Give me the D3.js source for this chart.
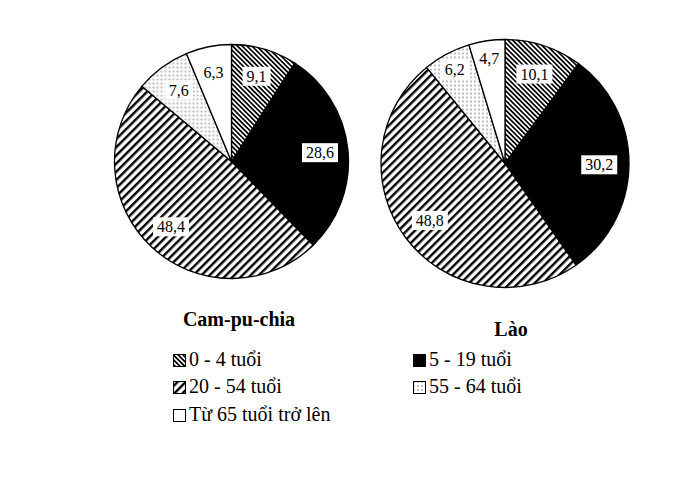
<!DOCTYPE html>
<html><head><meta charset="utf-8">
<script src="https://cdn.jsdelivr.net/npm/d3@7"></script>
</head><body style="margin:0">
<svg id="c" width="691" height="489" style="font-family:'Liberation Serif'"></svg>
<script>
const categories = ["0 - 4 tuổi","5 - 19 tuổi","20 - 54 tuổi","55 - 64 tuổi","Từ 65 tuổi trở lên"];
const countries = ["Cam-pu-chia","Lào"];
const cambodiaValues = [9.1,28.6,48.4,7.6,6.3];
const laosValues = [10.1,30.2,48.8,6.2,4.7];
const fills = ["url(#p0)","#000","url(#p2)","url(#p3)","#fff"];
const FONT = '"Liberation Serif"';

const svg = d3.select("#c");
const defs = svg.append("defs");
const p0 = defs.append("pattern").attr("id","p0").attr("patternUnits","userSpaceOnUse")
  .attr("width",3.4).attr("height",3.4).attr("patternTransform","rotate(-45)");
p0.append("rect").attr("width",3.4).attr("height",3.4).attr("fill","#fff");
p0.append("rect").attr("width",1.7).attr("height",3.4).attr("fill","#000");
const p2 = defs.append("pattern").attr("id","p2").attr("patternUnits","userSpaceOnUse")
  .attr("width",5.8).attr("height",5.8).attr("patternTransform","rotate(45)");
p2.append("rect").attr("width",5.8).attr("height",5.8).attr("fill","#fff");
p2.append("rect").attr("width",2.4).attr("height",5.8).attr("fill","#000");
const p3 = defs.append("pattern").attr("id","p3").attr("patternUnits","userSpaceOnUse")
  .attr("width",4).attr("height",4);
p3.append("rect").attr("width",4).attr("height",4).attr("fill","#fff");
p3.append("rect").attr("x",1.5).attr("y",1.5).attr("width",1).attr("height",1).attr("fill","#000");

const pie = d3.pie().sort(null).value(d=>d);

function drawPie(values, cx, cy, r, smallFactor){
  const g = svg.append("g").attr("transform",`translate(${cx},${cy})`);
  const arcs = pie(values);
  const arc = d3.arc().innerRadius(0).outerRadius(r);
  g.selectAll("path").data(arcs).join("path")
    .attr("d",arc).attr("fill",(d,i)=>fills[i])
    .attr("stroke","#000").attr("stroke-width",1.3).attr("stroke-linejoin","round");
  arcs.forEach((d,i)=>{
    const f = d.value < 7 ? smallFactor : 0.76;
    const la = d3.arc().innerRadius(r*f).outerRadius(r*f);
    const [x,y] = la.centroid(d);
    const txt = d3.format(".1f")(d.value).replace(".",",");
    const lg = g.append("g").attr("transform",`translate(${x},${y})`);
    const t = lg.append("text").attr("text-anchor","middle").attr("dy","0.35em")
      .style("font-family",FONT).attr("font-size",16).text(txt);
    const bb = t.node().getBBox();
    if (i!==4) lg.insert("rect","text").attr("x",bb.x-4).attr("y",bb.y-1)
      .attr("width",bb.width+8).attr("height",bb.height+2).attr("fill","#fff");
  });
}
drawPie(cambodiaValues, 231.5, 161.5, 117, 0.78);
drawPie(laosValues, 505, 163.5, 124, 0.86);

svg.append("text").attr("x",239).attr("y",326).attr("text-anchor","middle")
  .style("font-family",FONT).style("font-weight","bold").attr("font-size",20).text(countries[0]);
svg.append("text").attr("x",511).attr("y",336).attr("text-anchor","middle")
  .style("font-family",FONT).style("font-weight","bold").attr("font-size",20).text(countries[1]);

const legPos = [[173,366],[413,366],[173,393],[413,393],[173,421]];
categories.forEach((c,i)=>{
  const [x,y] = legPos[i];
  svg.append("rect").attr("x",x+0.5).attr("y",y-11.5).attr("width",12).attr("height",12)
    .attr("fill",fills[i]).attr("stroke","#000").attr("stroke-width",1);
  svg.append("text").attr("x",x+16).attr("y",y).style("font-family",FONT).attr("font-size",20).text(c);
});
</script>
</body></html>
